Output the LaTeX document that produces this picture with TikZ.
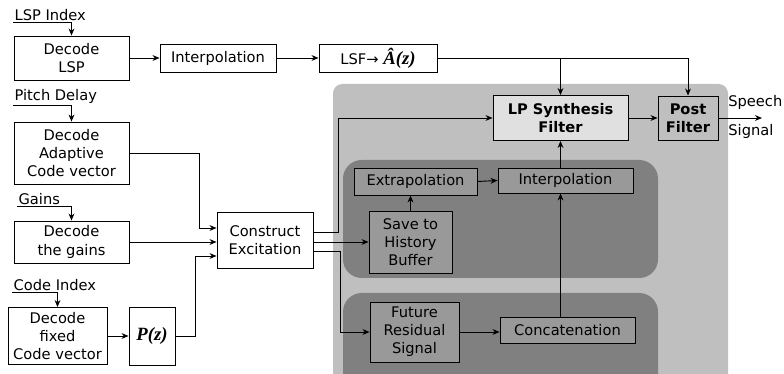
\documentclass[tikz,border=0pt]{standalone}
\usepackage{fontspec}
\setmainfont{DejaVu Sans}
\newfontfamily\symfont{Liberation Serif}
\usetikzlibrary{arrows.meta}
\newcommand{\bsym}[1]{{\symfont\fontsize{16}{18}\selectfont\bfseries\itshape #1}}
\begin{document}
\begin{tikzpicture}[x=0.03cm,y=-0.03cm,>={Stealth[length=6pt,width=5pt]},line width=0.8pt,
  font=\fontsize{12.5}{15.5}\selectfont,
  blk/.style={draw,align=center,inner sep=2pt,fill=white},
  inblk/.style={blk,fill=black!40,text=black}]
  \useasboundingbox (0,0) rectangle (784,374);

  \begin{scope}
    \clip (0,0) rectangle (784,374);
    \fill[black!25,rounded corners=8pt] (333,84) rectangle (728,400);
    \fill[black!50,rounded corners=16pt] (343,160) rectangle (658,278);
    \fill[black!50,rounded corners=16pt] (343,293) rectangle (658,400);
  \end{scope}

  \node[blk,fill=black!12,font=\fontsize{12.5}{15.5}\selectfont\bfseries,minimum width=4.05cm,minimum height=1.35cm] (lpsyn) at (560.5,118) {LP Synthesis\\Filter};
  \node[blk,fill=black!25,font=\fontsize{12.5}{15.5}\selectfont\bfseries,minimum width=1.8cm,minimum height=1.32cm] (post) at (688,118) {Post\\Filter};
  \node[blk,minimum width=3.45cm,minimum height=1.32cm] (declsp) at (71.5,58) {Decode\\LSP};
  \node[blk,minimum width=3.48cm,minimum height=0.84cm] (interp) at (218,58) {Interpolation};
  \node[blk,minimum width=3.54cm,minimum height=0.84cm] (lsf) at (378,58) {LSF→ \bsym{Â(z)}};
  \node[blk,minimum width=3.45cm,minimum height=1.86cm] (decadp) at (71.5,153) {Decode\\Adaptive\\Code vector};
  \node[blk,minimum width=3.45cm,minimum height=1.26cm] (decgain) at (71.5,242) {Decode\\the gains};
  \node[blk,minimum width=2.97cm,minimum height=1.71cm] (decfix) at (57.5,336) {Decode\\fixed\\Code vector};
  \node[blk,minimum width=1.38cm,minimum height=1.74cm] (pz) at (152,336) {\bsym{P(z)}};
  \node[blk,minimum width=2.88cm,minimum height=1.68cm] (constr) at (265,240) {Construct\\Excitation};
  \node[inblk,minimum width=3.69cm,minimum height=0.81cm] (extrap) at (415.5,181.5) {Extrapolation};
  \node[inblk,minimum width=4.05cm,minimum height=0.75cm] (interpb) at (565.5,180.5) {Interpolation};
  \node[inblk,minimum width=2.49cm,minimum height=1.86cm] (save) at (410.5,242) {Save to\\History\\Buffer};
  \node[inblk,minimum width=2.67cm,minimum height=1.8cm] (future) at (414.5,332) {Future\\Residual\\Signal};
  \node[inblk,minimum width=4.05cm,minimum height=0.78cm] (concat) at (567.5,330) {Concatenation};

  \coordinate (lspin) at (13,22);
  \coordinate (pitchin) at (13,105);
  \coordinate (gainin) at (17,206);
  \coordinate (codein) at (12,292);
  \coordinate (ka) at (199,228);
  \coordinate (kb) at (195,256);
  \coordinate (kc) at (338,232);
  \coordinate (ke) at (340,251);
  \coordinate (spout) at (762,118);

  \node[above right,inner sep=1pt] at (lspin) {LSP Index};
  \node[above right,inner sep=1pt] at (pitchin) {Pitch Delay};
  \node[above right,inner sep=1pt] at (gainin) {Gains};
  \node[above right,inner sep=1pt] at (codein) {Code Index};
  \node[anchor=west] at (724,102) {Speech};
  \node[anchor=west] at (724,131) {Signal};

  \draw[->] (lspin) -| (declsp.north);
  \draw[->] (pitchin) -| (decadp.north);
  \draw[->] (gainin) -| (decgain.north);
  \draw[->] (codein) -| (decfix.north);

  \draw[->] (declsp.east) -- (interp.west);
  \draw[->] (interp.east) -- (lsf.west);
  \draw[->] (lsf.east) -| (lpsyn.north);
  \draw[->] (lsf.east) -| (post.north);
  \draw[->] (lpsyn.east) -- (post.west);
  \draw[->] (post.east) -- (spout);

  \draw[->] (decadp.east) -| (ka) -- (constr.west |- ka);
  \draw[->] (decgain.east) -- (constr.west |- decgain.east);
  \draw[->] (decfix.east) -- (pz.west);
  \draw[->] (pz.east) -| (kb) -- (constr.west |- kb);

  \draw[->] (constr.east |- kc) -- (kc) |- (lpsyn.west);
  \draw[->] (constr.east |- save.west) -- (save.west);
  \draw[->] (constr.east |- ke) -- (ke) |- (future.west);

  \draw[->] (save.north) -- (save.north |- extrap.south);
  \draw[->] (extrap.east) -- (interpb.west);
  \draw[->] (interpb.north -| lpsyn) -- (lpsyn.south);
  \draw[->] (concat.north -| lpsyn) -- (interpb.south -| lpsyn);
  \draw[->] (future.east) -- (concat.west |- future.east);
\end{tikzpicture}
\end{document}
